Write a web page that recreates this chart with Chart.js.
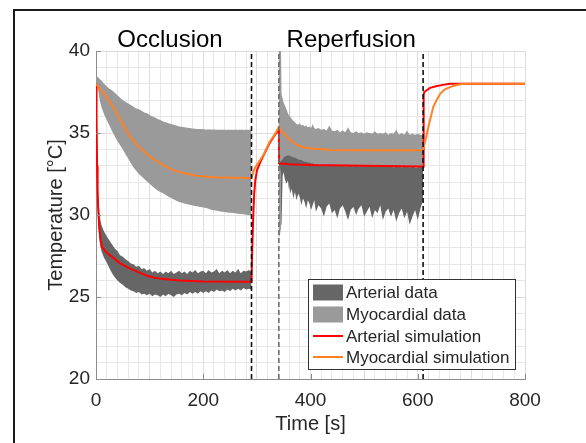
<!DOCTYPE html>
<html>
<head>
<meta charset="utf-8">
<script src="https://cdn.jsdelivr.net/npm/chart.js@4.4.1/dist/chart.umd.min.js"></script>
<style>
  html, body { margin: 0; padding: 0; background: #fff; overflow: hidden; }
  #wrap { position: relative; width: 586px; height: 443px; }
  #frame { position: absolute; left: 13px; top: 9px; width: 700px; height: 600px;
           border-left: 2px solid #1a1a1a; border-top: 2px solid #1a1a1a; pointer-events: none; }
  canvas { position: absolute; left: 0; top: 0; }
</style>
</head>
<body>
<div id="wrap">
  <canvas id="chart" width="586" height="443"></canvas>
  <div id="frame"></div>
</div>
<script>
// ---- data ----
// occlusion phase (0 - 290 s)
const occT = [0,2,4,7,10,15,20,25,30,35,40,45,50,55,60,65,70,75,80,85,90,95,100,105,110,115,120,125,130,135,140,145,150,155,160,165,170,175,180,185,190,195,200,205,210,215,220,225,230,235,240,245,250,255,260,265,270,275,280,285,290];
const artOccHi = [38.0,35.0,31.2,29.9,29.4,29.0,28.7,28.45,28.2,27.95,27.8,27.55,27.45,27.3,27.2,27.05,27.0,26.85,26.9,26.7,26.75,26.6,26.7,26.5,26.6,26.45,26.55,26.4,26.55,26.45,26.6,26.4,26.5,26.6,26.45,26.55,26.4,26.6,26.5,26.65,26.45,26.55,26.6,26.45,26.65,26.5,26.55,26.7,26.45,26.6,26.5,26.65,26.45,26.6,26.5,26.7,26.45,26.6,26.55,26.65,26.5];
const artOccLo = [36.8,31.5,29.4,28.3,27.8,27.4,27.1,26.75,26.45,26.2,26.0,25.85,25.75,25.6,25.5,25.4,25.35,25.25,25.3,25.15,25.2,25.1,25.2,25.05,25.15,25.1,25.0,25.15,25.05,25.2,25.1,25.0,25.15,25.2,25.1,25.25,25.15,25.3,25.2,25.3,25.2,25.35,25.25,25.35,25.25,25.4,25.3,25.45,25.35,25.4,25.3,25.45,25.35,25.5,25.4,25.5,25.4,25.55,25.45,25.5,25.45];
const myoOccHi = [38.5,38.45,38.4,38.3,38.2,38.0,37.85,37.7,37.6,37.45,37.3,37.15,37.0,36.9,36.8,36.7,36.6,36.5,36.45,36.35,36.25,36.2,36.1,36.0,35.95,35.85,35.8,35.7,35.65,35.6,35.55,35.5,35.45,35.4,35.38,35.35,35.32,35.3,35.28,35.26,35.25,35.24,35.23,35.22,35.22,35.21,35.21,35.2,35.2,35.2,35.2,35.2,35.2,35.2,35.2,35.2,35.2,35.2,35.2,35.2,35.2];
const myoOccLo = [38.0,37.8,37.6,37.0,36.6,36.15,35.8,35.45,35.1,34.8,34.5,34.25,34.0,33.7,33.45,33.15,32.9,32.7,32.5,32.35,32.2,32.05,31.9,31.75,31.62,31.5,31.4,31.32,31.22,31.12,31.03,30.95,30.87,30.8,30.74,30.7,30.66,30.62,30.58,30.55,30.52,30.49,30.46,30.43,30.38,30.32,30.29,30.26,30.23,30.2,30.18,30.16,30.14,30.12,30.1,30.08,30.06,30.04,30.02,30.0,29.98];

// reperfusion phase (341 - 610 s)
const repT = [341,343,345,346,348,350,352,355,358,360,361,362,365,368,371,374,377,380,383,386,389,392,395,398,401,404,407,410,415,420,425,430,435,440,445,450,455,460,465,470,475,480,485,490,495,500,505,510,515,520,525,530,535,540,545,550,555,560,565,570,575,580,585,590,595,600,605,610];
const myoRepHi = [40.0,40.0,40.0,37.4,37.1,36.85,36.7,36.45,36.2,36.05,39.9,36.0,35.85,35.75,35.65,35.55,35.5,35.6,35.45,35.5,35.4,35.45,35.35,35.4,35.3,35.55,35.3,35.25,35.3,35.2,35.25,35.15,35.45,35.15,35.1,35.2,35.05,35.15,35.05,35.35,35.05,35.0,35.1,35.0,35.05,34.95,35.05,35.0,34.95,35.1,34.95,35.0,34.95,35.05,34.9,35.0,34.95,35.2,34.9,35.0,34.9,35.15,34.9,34.95,34.9,34.95,34.9,34.85];
const myoRepLo = [28.6,28.8,29.2,33.0,32.9,32.9,32.9,32.9,32.9,32.9,32.9,32.9,32.9,32.9,32.9,32.9,32.9,32.9,32.9,32.9,32.9,32.9,32.9,32.9,32.9,32.9,32.9,32.9,32.9,32.9,32.9,32.9,32.9,32.9,32.9,32.9,32.9,32.9,32.9,32.9,32.9,32.9,32.9,32.9,32.9,32.9,32.9,32.9,32.9,32.9,32.9,32.9,32.9,32.9,32.9,32.9,32.9,32.9,32.9,32.9,32.9,32.9,32.9,32.9,32.9,32.9,32.9,32.9];
const artRepHi = [33.2,33.2,33.3,33.3,33.4,33.5,33.55,33.6,33.65,33.6,33.65,33.6,33.55,33.5,33.5,33.45,33.4,33.35,33.35,33.3,33.25,33.25,33.2,33.2,33.15,33.15,33.1,33.1,33.05,33.05,33.0,33.05,33.0,33.0,33.05,33.0,33.0,33.0,32.95,33.0,33.0,32.95,33.0,32.95,33.0,32.95,32.95,33.0,32.95,32.95,32.95,33.0,32.95,32.95,32.95,32.95,32.9,32.95,32.95,32.9,32.95,32.95,32.9,32.95,32.9,32.9,32.95,32.9];
const artRepLo = [33.0,32.9,32.6,29.4,32.4,32.6,32.2,31.9,32.1,31.5,31.8,31.3,31.6,31.0,31.4,30.9,31.3,31.1,30.6,31.0,30.8,30.4,30.9,30.7,30.3,30.6,30.9,30.2,30.6,30.4,29.9,30.5,30.7,30.1,30.3,29.8,30.4,30.6,30.2,29.7,30.3,30.5,30.0,30.4,30.6,29.9,30.2,30.5,29.8,30.3,30.1,30.6,29.7,30.2,30.4,29.9,30.3,29.6,30.1,30.4,29.8,30.2,29.4,29.9,30.3,29.7,30.4,30.9];

// simulations
const artSimT = [0,1,2,3,4,6,8,11,20,32,45,63,80,95,110,125,157,200,290,291,293,295,297,300,306,315,324,333,341,341.3,360,400,500,610,611,612,623,636,650,660,800];
const artSim  = [38.0,36.0,33.0,31.5,30.5,29.3,28.6,28.05,27.7,27.4,27.05,26.75,26.5,26.3,26.18,26.1,26.0,25.95,25.93,27.5,29.7,31.3,32.1,32.7,33.2,33.8,34.4,34.85,35.2,33.15,33.1,33.05,33.0,32.95,37.3,37.5,37.75,37.87,37.95,38.0,38.0];
const myoSimT = [0,16,32,48,63,79,95,110,125,140,157,172,188,218,250,290,293,296,300,312,324,333,341,348,356,365,374,385,399,437,500,610,616,620,629,635,642,650,660,672,685,800];
const myoSim  = [38.0,37.35,36.6,35.65,34.8,34.2,33.7,33.35,33.05,32.8,32.6,32.5,32.4,32.3,32.27,32.25,32.6,32.85,33.04,33.65,34.47,34.9,35.35,35.05,34.77,34.5,34.27,34.15,34.07,33.96,33.95,33.95,34.8,35.4,36.6,37.0,37.4,37.65,37.8,37.93,38.0,38.0];

// phase markers and labels
const markerT = [290, 341, 610];
const phaseNames = ['Occlusion', 'Reperfusion'];
const phaseAt = [138, 476];

const xLabelTicks = [0, 200, 400, 600, 800];
const yLabelTicks = [20, 25, 30, 35, 40];
const legendLabels = ['Arterial data', 'Myocardial data', 'Arterial simulation', 'Myocardial simulation'];

// ---- style ----
const FONT = '"Liberation Sans", Arial, Helvetica, sans-serif';
const DARK = '#666666';
const LIGHT = '#9a9a9a';
const RED = '#ff0000';
const ORANGE = '#ff8126';
const AXIS = '#8c8c8c';
const TEXT = '#262626';

const pts = (t, v) => t.map((x, i) => ({x: x, y: v[i]}));

function band(hi, lo, t, color, order) {
  return [
    {data: pts(t, hi), fill: '+1', backgroundColor: color, borderWidth: 0, pointRadius: 0, order: order},
    {data: pts(t, lo), fill: false, borderWidth: 0, pointRadius: 0, order: order}
  ];
}

const markers = markerT.map((t, i) => ({
  data: [{x: t, y: 20}, {x: t, y: 40}],
  borderColor: i === 1 ? '#6e6e6e' : '#111111',
  borderWidth: 1.6,
  borderDash: [5, 3],
  pointRadius: 0,
  fill: false,
  order: 0
}));

const overlay = {
  id: 'overlay',
  afterDraw(chart) {
    const {ctx, chartArea: a, scales: {x, y}} = chart;
    ctx.save();
    // inward tick marks
    ctx.strokeStyle = AXIS;
    ctx.lineWidth = 1;
    xLabelTicks.forEach(v => {
      const px = Math.round(x.getPixelForValue(v)) + 0.5;
      ctx.beginPath(); ctx.moveTo(px, a.bottom); ctx.lineTo(px, a.bottom - 5); ctx.stroke();
    });
    yLabelTicks.forEach(v => {
      const py = Math.round(y.getPixelForValue(v)) + 0.5;
      ctx.beginPath(); ctx.moveTo(a.left, py); ctx.lineTo(a.left + 5, py); ctx.stroke();
    });

    // phase titles
    ctx.fillStyle = '#000';
    ctx.font = '24px ' + FONT;
    ctx.textAlign = 'center';
    ctx.textBaseline = 'alphabetic';
    phaseNames.forEach((n, i) => ctx.fillText(n, x.getPixelForValue(phaseAt[i]), a.top - 4));

    // legend box
    const w = 207, h = 90;
    const bx = a.right - 10 - w, by = a.bottom - 10 - h;
    ctx.fillStyle = '#fff';
    ctx.fillRect(bx, by, w, h);
    ctx.strokeStyle = '#333';
    ctx.strokeRect(bx + 0.5, by + 0.5, w, h);
    const rows = [13.5, 35.5, 57, 78];
    const sw = [DARK, LIGHT, RED, ORANGE];
    ctx.font = '17px ' + FONT;
    ctx.textAlign = 'left';
    ctx.textBaseline = 'middle';
    rows.forEach((r, i) => {
      const cy = by + r;
      if (i < 2) {
        ctx.fillStyle = sw[i];
        ctx.fillRect(bx + 5, cy - 8, 30, 16);
      } else {
        ctx.strokeStyle = sw[i];
        ctx.lineWidth = 2;
        ctx.beginPath(); ctx.moveTo(bx + 5, cy); ctx.lineTo(bx + 35, cy); ctx.stroke();
      }
      ctx.fillStyle = TEXT;
      ctx.fillText(legendLabels[i], bx + 38, cy + 1);
    });
    ctx.restore();
  }
};

new Chart(document.getElementById('chart'), {
  type: 'line',
  data: {
    datasets: [
      ...band(myoOccHi, myoOccLo, occT, LIGHT, 10),
      ...band(myoRepHi, myoRepLo, repT, LIGHT, 10),
      ...band(artOccHi, artOccLo, occT, DARK, 8),
      ...band(artRepHi, artRepLo, repT, DARK, 8),
      {data: pts(artSimT, artSim), borderColor: RED, borderWidth: 2, pointRadius: 0, fill: false, order: 3},
      {data: pts(myoSimT, myoSim), borderColor: ORANGE, borderWidth: 2, pointRadius: 0, fill: false, order: 2},
      ...markers
    ]
  },
  options: {
    responsive: false,
    devicePixelRatio: 1,
    animation: false,
    events: [],
    layout: {padding: {left: 0, top: 51, right: 61, bottom: 0}},
    elements: {line: {tension: 0}},
    plugins: {legend: {display: false}, tooltip: {enabled: false}},
    scales: {
      x: {
        type: 'linear', min: 0, max: 800,
        afterFit: s => { s.height = 64; },
        ticks: {
          stepSize: 20, autoSkip: false, maxRotation: 0, padding: 10,
          color: TEXT, font: {family: FONT, size: 19},
          callback: v => (v % 200 === 0 ? v : '')
        },
        grid: {drawTicks: false, color: c => (c.tick && c.tick.value % 100 === 0 ? '#dcdcdc' : '#e8e8e8')},
        border: {color: AXIS},
        title: {display: true, text: 'Time [s]', color: TEXT, font: {family: FONT, size: 20}, padding: {top: 0, bottom: 7}}
      },
      y: {
        type: 'linear', min: 20, max: 40,
        afterFit: s => { s.width = 96; },
        ticks: {
          stepSize: 1, autoSkip: false, padding: 6,
          color: TEXT, font: {family: FONT, size: 19},
          callback: v => (v % 5 === 0 ? v : '')
        },
        grid: {drawTicks: false, color: c => (c.tick && c.tick.value % 5 === 0 ? '#dcdcdc' : '#e8e8e8')},
        border: {color: AXIS},
        title: {display: true, text: 'Temperature [°C]', color: TEXT, font: {family: FONT, size: 20}, padding: {top: 44, bottom: 0}}
      }
    }
  },
  plugins: [overlay]
});
</script>
</body>
</html>
